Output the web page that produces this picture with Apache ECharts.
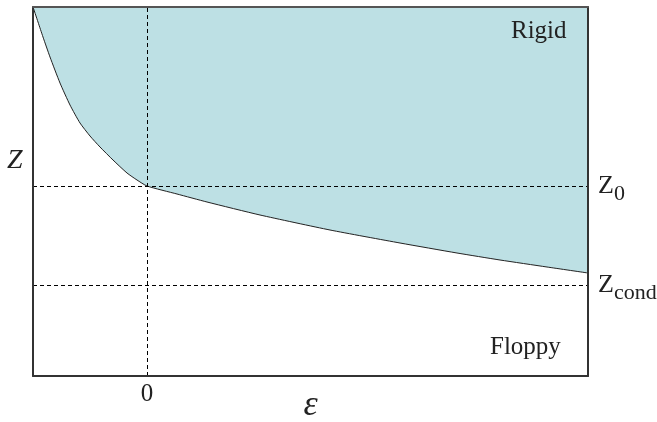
<!DOCTYPE html>
<html><head><meta charset="utf-8">
<script src="https://cdn.jsdelivr.net/npm/echarts@6/dist/echarts.min.js"></script>
<style>html,body{margin:0;padding:0;background:#fff}#c{width:657px;height:422px}</style>
</head><body><div id="c"></div>
<script>
// Curve separating rigid (above) from floppy (below), arbitrary units
const epsValues = [-114, -109, -104, -97, -87, -77, -67, -57, -47, -34, -20, -10, 0, 30, 60, 113, 183, 253, 310, 353, 400, 441];
const zValues   = [369, 354, 339, 319, 293, 271, 253, 240, 229, 216, 203, 196, 190, 182, 174, 161, 146, 133, 123, 116, 109, 103];
const z0 = 190;
const zCond = 91;
const xTickLabels = [0];
const xMin = -114, xMax = 441, yMin = 0, yMax = 369;

const serif = '"Liberation Serif","DejaVu Serif",serif';
const chart = echarts.init(document.getElementById('c'));
const dashed = {color: '#000', width: 1, type: [4, 3]};
const zRich = (sub) => ({
  show: true, position: 'end', distance: 10,
  formatter: '{a|Z}{b|' + sub + '}',
  rich: {
    a: {fontFamily: serif, fontSize: 26, lineHeight: 26, color: '#222', verticalAlign: 'top'},
    b: {fontFamily: serif, fontSize: 22, lineHeight: 22, color: '#222', verticalAlign: 'top', padding: [10, 0, 0, 0]}
  }
});
chart.setOption({
  animation: false,
  grid: {left: 33, top: 7, right: 69, bottom: 46, outerBoundsMode: 'none', containLabel: false},
  xAxis: [{
    type: 'value', min: xMin, max: xMax, z: 5,
    axisLine: {show: true, onZero: false, lineStyle: {color: '#333', width: 2}},
    axisTick: {show: false},
    splitLine: {show: false},
    axisLabel: {customValues: xTickLabels, margin: 6, fontFamily: serif, fontSize: 25, color: '#222'},
    name: 'ε', nameLocation: 'middle', nameGap: 12, nameMoveOverlap: false,
    nameTextStyle: {fontFamily: serif, fontStyle: 'italic', fontSize: 36, color: '#222'}
  }, {
    type: 'value', position: 'top', min: xMin, max: xMax, z: 5,
    axisLine: {show: true, onZero: false, lineStyle: {color: '#555', width: 2}},
    axisTick: {show: false}, axisLabel: {show: false}, splitLine: {show: false}
  }],
  yAxis: [{
    type: 'value', min: yMin, max: yMax, z: 5,
    axisLine: {show: true, onZero: false, lineStyle: {color: '#333', width: 2}},
    axisTick: {show: false}, axisLabel: {show: false}, splitLine: {show: false}
  }, {
    type: 'value', position: 'right', min: yMin, max: yMax, z: 5,
    axisLine: {show: true, onZero: false, lineStyle: {color: '#333', width: 2}},
    axisTick: {show: false}, axisLabel: {show: false}, splitLine: {show: false}
  }],
  series: [{
    type: 'line',
    data: epsValues.map((e, i) => [e, zValues[i]]),
    smooth: 0.2,
    symbol: 'none',
    lineStyle: {color: '#222', width: 1},
    areaStyle: {origin: 'end', color: '#bde0e4', opacity: 1},
    z: 2,
    markLine: {
      silent: true, symbol: 'none', animation: false,
      lineStyle: dashed,
      data: [
        {yAxis: z0, label: zRich('0')},
        {yAxis: zCond, label: zRich('cond')},
        {xAxis: 0, label: {show: false}}
      ]
    }
  }],
  graphic: [
    {type: 'text', z: 100, left: 7, top: 147, style: {text: 'Z', font: 'italic 28px ' + serif, fill: '#222'}},
    {type: 'text', z: 100, left: 511, top: 19, style: {text: 'Rigid', font: '25px ' + serif, fill: '#222'}},
    {type: 'text', z: 100, left: 490, top: 335, style: {text: 'Floppy', font: '25px ' + serif, fill: '#222'}}
  ]
});
</script></body></html>
